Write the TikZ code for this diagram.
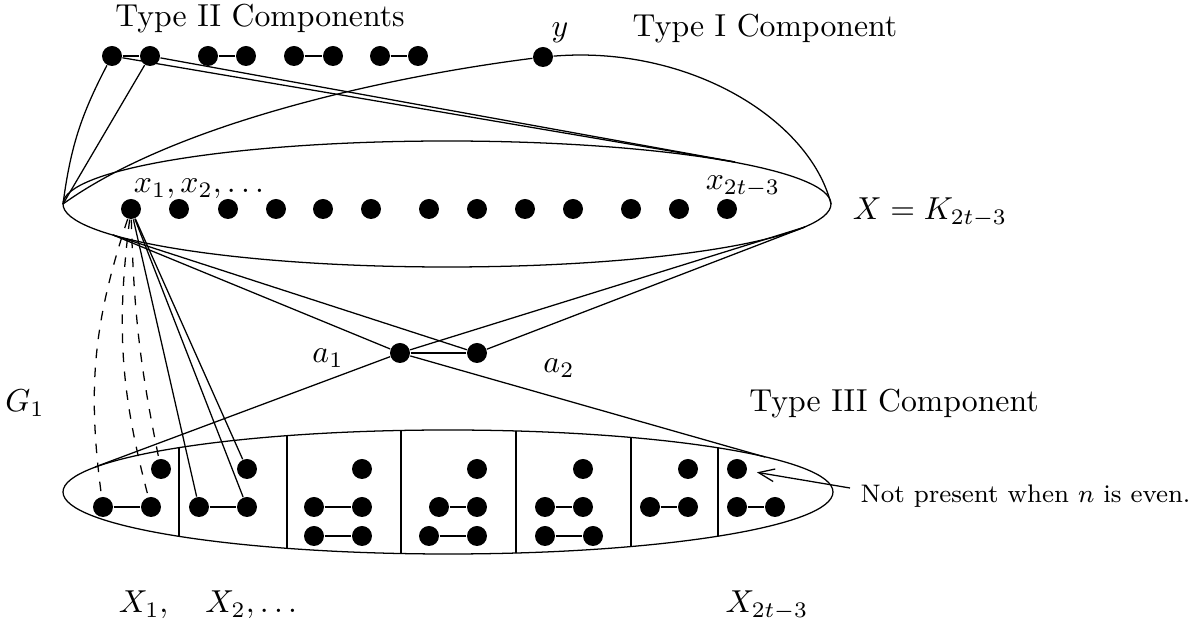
\documentclass[tikz,border=0pt]{standalone}
\usetikzlibrary{arrows.meta}
\tikzset{
	dot/.style={circle, fill=black, inner sep=0pt, minimum size=6.3pt},
	lbl/.style={anchor=base, inner sep=0pt},
}
\begin{document}
\begin{tikzpicture}[x=0.315pt, y=-0.315pt, >={Straight Barb[length=5pt, width=4pt]}]
	\useasboundingbox (0,0) rectangle (1204,628);
	% the two ellipses
	\draw (447,204) ellipse [x radius=384, y radius=63];
	\draw (448,492) ellipse [x radius=385, y radius=62];
	\begin{scope}
		\clip (448,492) ellipse [x radius=385, y radius=62];
		\foreach \xx in {179, 287, 401, 516, 631, 718}
			\draw (\xx, 420) -- (\xx, 570);
	\end{scope}
	% points on the ellipses
	\coordinate (xl) at (63,204);
	\coordinate (xr) at (831,204);
	\coordinate (xbl) at (113,235);
	\coordinate (xbr) at (805,227);
	\coordinate (xtr) at (735,162);
	\coordinate (lbl) at (95,467);
	\coordinate (ltr) at (765,457);
	% Type II components
	\foreach \xa/\xb [count=\i] in {112/150, 208/246, 294/333, 380/418}
	{
		\node[dot] (ta\i) at (\xa, 56) {};
		\node[dot] (tb\i) at (\xb, 56) {};
		\draw (ta\i) -- (tb\i);
	}
	\node[dot] (y) at (543,57) {};
	% X
	\foreach \xx [count=\i] in {131, 179, 228, 276, 323, 371, 429, 477, 525, 573, 631, 679, 727}
		\node[dot] (x\i) at (\xx, 209) {};
	\node[dot] (a1) at (400,353) {};
	\node[dot] (a2) at (477,353) {};
	% Type III component
	\foreach \na/\xa/\nb/\xb/\yy in {l1a/103/l1b/151/507, l2a/199/l2b/247/507,
			l3a/314/l3b/362/507, l3c/314/l3d/362/536, l4a/439/l4b/477/507, l4c/429/l4d/477/536,
			l5a/545/l5b/583/507, l5c/545/l5d/593/536, l6a/650/l6b/688/507, l7a/737/l7b/775/507}
	{
		\node[dot] (\na) at (\xa, \yy) {};
		\node[dot] (\nb) at (\xb, \yy) {};
		\draw (\na) -- (\nb);
	}
	\foreach \nn/\xx in {l1c/161, l2c/247, l3e/362, l4e/477, l5e/583, l6e/688, l7e/737}
		\node[dot] (\nn) at (\xx, 469) {};
	% edges
	\draw (xl) .. controls (180,120) and (400,75) .. (y);
	\draw (y) .. controls (690,45) and (810,120) .. (xr);
	\draw (xl) to[bend left=10] (ta1);
	\draw (xl) -- (tb1);
	\draw (ta1) -- (xtr);
	\draw (tb1) -- (xtr);
	\draw (xbl) -- (a1);
	\draw (xbl) -- (a2);
	\draw (xbr) -- (a1);
	\draw (xbr) -- (a2);
	\draw (a1) -- (a2);
	\draw (a1) -- (lbl);
	\draw (a1) -- (ltr);
	\draw[dashed] (x1) to[bend right=13] (l1a);
	\draw[dashed] (x1) to[bend right=11] (l1b);
	\draw[dashed] (x1) to[bend right=5] (l1c);
	\draw (x1) -- (l2a);
	\draw (x1) -- (l2b);
	\draw (x1) -- (l2c);
	% labels
	\node[lbl] (ttwo) at (260,27) {Type II Components};
	\node[lbl] (tone) at (765,37) {Type I Component};
	\node[lbl] (ylbl) at (560,37) {$y$};
	\node[lbl] (xfirst) at (199,193) {$x_1, x_2, \ldots$};
	\node[lbl] (xlast) at (743,190) {$x_{2t-3}$};
	\node[lbl] (xk) at (930,220) {$X = K_{2t-3}$};
	\node[lbl] (alone) at (328,363) {$a_1$};
	\node[lbl] (atwo) at (559,373) {$a_2$};
	\node[lbl] (gone) at (25,412) {$G_1$};
	\node[lbl] (tthree) at (894,412) {Type III Component};
	\node[lbl, anchor=base west] (notpres) at (860,503) {\footnotesize Not present when $n$ is even.};
	\node[lbl] (xones) at (208,613) {$X_1,\quad X_2,\ldots$};
	\node[lbl] (xlasts) at (767,613) {$X_{2t-3}$};
	\coordinate (np) at (850,488);
	\draw[->, shorten >=3pt] (np) -- (l7e);
\end{tikzpicture}
\end{document}
